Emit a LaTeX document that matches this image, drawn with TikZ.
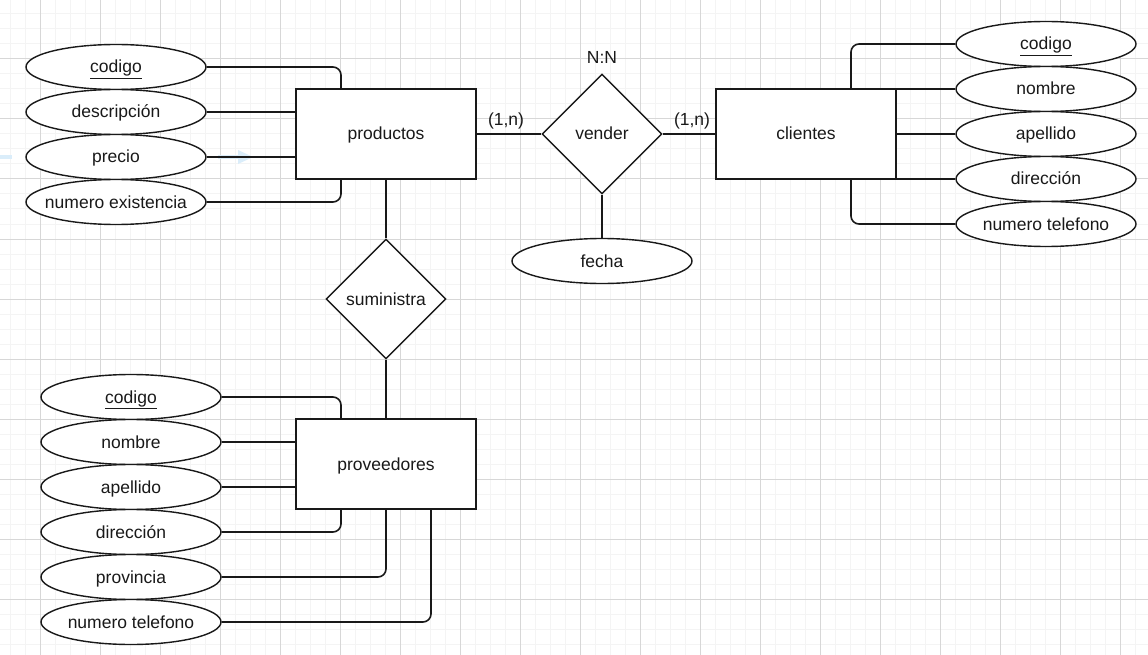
\documentclass[tikz,border=0pt]{standalone}
\usepackage{fontspec}
\setmainfont{Liberation Sans}
\usetikzlibrary{shapes.geometric}
\definecolor{minorgrid}{RGB}{244,244,244}
\definecolor{majorgrid}{RGB}{215,215,215}
\definecolor{inkc}{RGB}{25,25,25}
\definecolor{hoverblue}{RGB}{218,237,250}
\newcommand{\attrtext}[1]{\makebox[0pt]{#1}}
\tikzset{
  attr/.style={ellipse, draw=inkc, line width=1.4pt, fill=white, minimum width=180pt, minimum height=45pt, inner sep=0pt},
  entity/.style={rectangle, draw=inkc, line width=1.6pt, fill=white, minimum width=180pt, minimum height=90pt, inner sep=0pt},
  rel/.style={diamond, draw=inkc, line width=1.4pt, fill=white, minimum width=120pt, minimum height=120pt, inner sep=0pt},
  conn/.style={draw=inkc, line width=1.6pt, rounded corners=8pt},
  lbl/.style={inner sep=0pt, text=inkc},
  every node/.append style={font=\fontsize{17.5}{20}\selectfont, text=inkc, text height=12pt, text depth=0pt}
}
\begin{document}
\begin{tikzpicture}[x=1pt,y=-1pt]
\useasboundingbox (0,0) rectangle (1148,655);
\fill[white] (0,0) rectangle (1148,655);
% grid
\foreach \gx in {10,25,...,1148} \draw[minorgrid, line width=1pt] (\gx,0) -- (\gx,655);
\foreach \gy in {14,29,...,655} \draw[minorgrid, line width=1pt] (0,\gy) -- (1148,\gy);
\foreach \gx in {40,100,...,1148} \draw[majorgrid, line width=1pt] (\gx,0) -- (\gx,655);
\foreach \gy in {59,119,...,655} \draw[majorgrid, line width=1pt] (0,\gy) -- (1148,\gy);
% faint hover marks
\fill[hoverblue] (0,155) rectangle (12,159);
\fill[hoverblue] (218,155) rectangle (238,159);
\fill[hoverblue] (238,150) -- (253,157) -- (238,164) -- cycle;

% entities
\node[entity] (prod) at (386,134) {productos};
\node[entity] (cli) at (806,134) {clientes};
\node[entity] (prov) at (386,464) {proveedores};
% relationships
\node[rel] (ven) at (602,134) {vender};
\node[rel] (sum) at (386,299) {suministra};
% productos attributes
\node[attr] (pcod) at (116,67) {\attrtext{\underline{codigo}}};
\node[attr] (pdes) at (116,112) {\attrtext{descripción}};
\node[attr] (ppre) at (116,157) {\attrtext{precio}};
\node[attr] (pnum) at (116,202) {\attrtext{numero existencia}};
% clientes attributes
\node[attr] (ccod) at (1046,44) {\attrtext{\underline{codigo}}};
\node[attr] (cnom) at (1046,89) {\attrtext{nombre}};
\node[attr] (cape) at (1046,134) {\attrtext{apellido}};
\node[attr] (cdir) at (1046,179) {\attrtext{dirección}};
\node[attr] (ctel) at (1046,224) {\attrtext{numero telefono}};
% proveedores attributes
\node[attr] (vcod) at (131,397) {\attrtext{\underline{codigo}}};
\node[attr] (vnom) at (131,442) {\attrtext{nombre}};
\node[attr] (vape) at (131,487) {\attrtext{apellido}};
\node[attr] (vdir) at (131,532) {\attrtext{dirección}};
\node[attr] (vpro) at (131,577) {\attrtext{provincia}};
\node[attr] (vtel) at (131,622) {\attrtext{numero telefono}};
% fecha
\node[attr] (fecha) at (602,261) {\attrtext{fecha}};
% labels
\node[lbl] (nn) at (602,58) {N:N};
\node[lbl] (c1) at (506,120) {(1,n)};
\node[lbl] (c2) at (692,120) {(1,n)};

% connectors: productos
\draw[conn] (pcod.east) -| ([xshift=-45pt]prod.north);
\draw[conn] (pdes.east) -- (pdes.east -| prod.west);
\draw[conn] (ppre.east) -- (ppre.east -| prod.west);
\draw[conn] (pnum.east) -| ([xshift=-45pt]prod.south);
% vender
\draw[conn] (prod.east) -- (ven.west);
\draw[conn] (ven.east) -- (cli.west);
\draw[conn] (ven.south) -- (fecha.north);
% clientes
\draw[conn] (ccod.west) -| ([xshift=45pt]cli.north);
\draw[conn] (cnom.west) -- (cnom.west -| cli.east);
\draw[conn] (cape.west) -- (cape.west -| cli.east);
\draw[conn] (cdir.west) -- (cdir.west -| cli.east);
\draw[conn] (ctel.west) -| ([xshift=45pt]cli.south);
% suministra
\draw[conn] (prod.south) -- (sum.north);
\draw[conn] (sum.south) -- (prov.north);
% proveedores
\draw[conn] (vcod.east) -| ([xshift=-45pt]prov.north);
\draw[conn] (vnom.east) -- (vnom.east -| prov.west);
\draw[conn] (vape.east) -- (vape.east -| prov.west);
\draw[conn] (vdir.east) -| ([xshift=-45pt]prov.south);
\draw[conn] (vpro.east) -| (prov.south);
\draw[conn] (vtel.east) -| ([xshift=45pt]prov.south);
\end{tikzpicture}
\end{document}
